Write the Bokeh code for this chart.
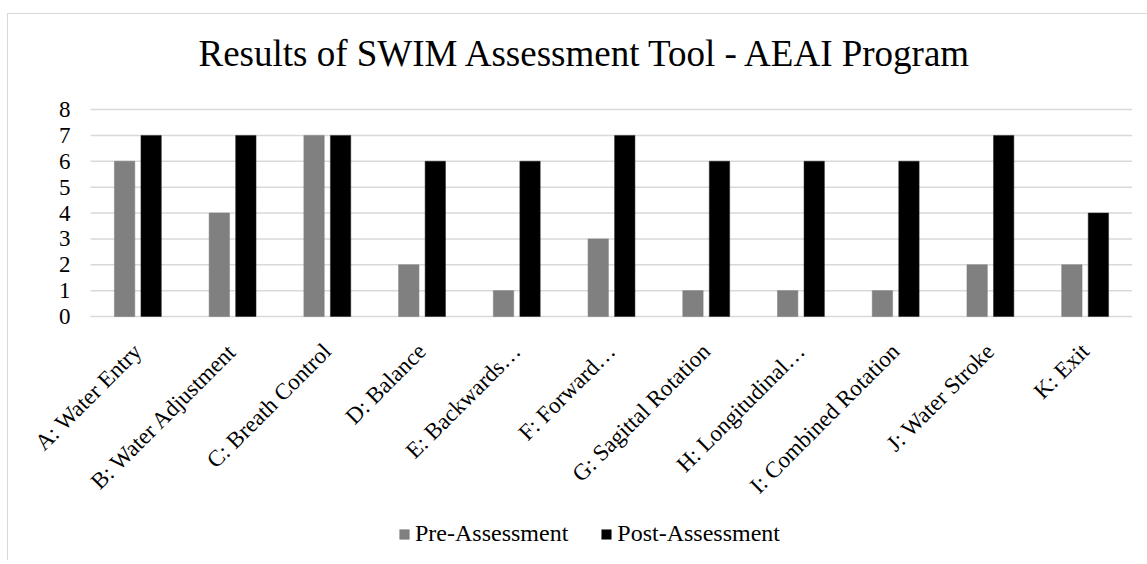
from bokeh.plotting import figure
from bokeh.models import ColumnDataSource, Range1d, Legend, LegendItem
from bokeh.transform import dodge
from bokeh.embed import file_html
from bokeh.resources import INLINE
import math

categories = ["A: Water Entry", "B: Water Adjustment", "C: Breath Control", "D: Balance",
              "E: Backwards\u2026", "F: Forward\u2026", "G: Sagittal Rotation", "H: Longitudinal\u2026",
              "I: Combined Rotation", "J: Water Stroke", "K: Exit"]
pre_assessment = [6, 4, 7, 2, 1, 3, 1, 1, 1, 2, 2]
post_assessment = [7, 7, 7, 6, 6, 7, 6, 6, 6, 7, 4]
y_ticks = [0, 1, 2, 3, 4, 5, 6, 7, 8]

FONT = "Liberation Serif"

# layout geometry (pixels)
W, H = 1147, 560
TOP, BOTTOM, RIGHT = 90, 4, 15
AXIS_TOP_PX = 109          # canvas y of the value 8 gridline
PLOT_LEFT_PX = 90          # where the category band starts inside the frame
AXIS_PX = 207.0            # pixel height of the 0..8 value axis
n = len(categories)
frame_w = W - RIGHT
cat_px = (frame_w - PLOT_LEFT_PX) / n
x_hi = n - 0.5
x_lo = -0.5 - PLOT_LEFT_PX / cat_px
px_per_unit = AXIS_PX / y_ticks[-1]
y_hi = y_ticks[-1] + (AXIS_TOP_PX - TOP) / px_per_unit
y_lo = y_ticks[0] - (H - BOTTOM - (AXIS_TOP_PX + AXIS_PX)) / px_per_unit

idx = list(range(n))
src = ColumnDataSource(dict(i=idx, cat=categories, pre=pre_assessment, post=post_assessment))
grid_src = ColumnDataSource(dict(y=y_ticks, x0=[-0.5] * len(y_ticks), x1=[x_hi] * len(y_ticks)))

p = figure(width=W, height=H, x_range=Range1d(x_lo, x_hi), y_range=Range1d(y_lo, y_hi),
           output_backend="svg", toolbar_location=None,
           min_border_left=0, min_border_right=RIGHT, min_border_top=TOP, min_border_bottom=BOTTOM)

p.border_fill_alpha = 0
p.background_fill_alpha = 0
p.styles = {
    "background": "linear-gradient(#d9d9d9, #d9d9d9) 7px 13px / 1px 100% no-repeat, "
                  "linear-gradient(#d9d9d9, #d9d9d9) 7px 13px / 100% 1px no-repeat, #ffffff"
}

p.title.text = "Results of SWIM Assessment Tool - AEAI Program"
p.title.text_font = FONT
p.title.text_font_size = "37px"
p.title.text_font_style = "normal"
p.title.text_color = "#000000"
p.title.align = "left"
p.title.offset = 198
p.title.standoff = 33

p.xgrid.visible = False
p.ygrid.visible = False
p.outline_line_color = None

# horizontal gridlines at the value ticks, over the category band only
p.segment(x0="x0", x1="x1", y0="y", y1="y", source=grid_src, line_color="#d9d9d9", line_width=1.5)

BAR_W = 0.215
OFF = 0.14
r_pre = p.vbar(x=dodge("i", -OFF), top="pre", bottom=0, width=BAR_W, source=src,
               fill_color="#808080", line_color="#7a7a7a", line_width=0.5)
r_post = p.vbar(x=dodge("i", OFF), top="post", bottom=0, width=BAR_W, source=src,
                fill_color="#000000", line_color="#222222", line_width=0.5)

p.yaxis.fixed_location = -0.5
p.yaxis.ticker = y_ticks
p.yaxis.axis_line_color = None
p.yaxis.major_tick_line_color = None
p.yaxis.minor_tick_line_color = None
p.yaxis.major_label_text_font = FONT
p.yaxis.major_label_text_font_size = "23px"
p.yaxis.major_label_text_color = "#000000"
p.yaxis.major_label_standoff = 14

p.xaxis.fixed_location = 0
p.xaxis.ticker = idx
p.xaxis.major_label_overrides = {i: c for i, c in zip(idx, categories)}
p.xaxis.axis_line_color = None
p.xaxis.major_tick_line_color = None
p.xaxis.minor_tick_line_color = None
p.xaxis.major_label_orientation = math.pi / 4
p.xaxis.major_label_text_font = FONT
p.xaxis.major_label_text_font_size = "23px"
p.xaxis.major_label_text_color = "#000000"
p.xaxis.major_label_standoff = 25

legend = Legend(items=[LegendItem(label="Pre-Assessment", renderers=[r_pre]),
                       LegendItem(label="Post-Assessment", renderers=[r_post])],
                orientation="horizontal", location=(398, 9))
legend.label_text_font = FONT
legend.label_text_font_size = "24px"
legend.label_text_color = "#000000"
legend.glyph_width = 12
legend.glyph_height = 12
legend.label_standoff = 5
legend.spacing = 32
legend.padding = 0
legend.margin = 0
legend.border_line_color = None
legend.background_fill_alpha = 0
p.add_layout(legend, "center")

open("out.html", "w").write(file_html(p, INLINE))
